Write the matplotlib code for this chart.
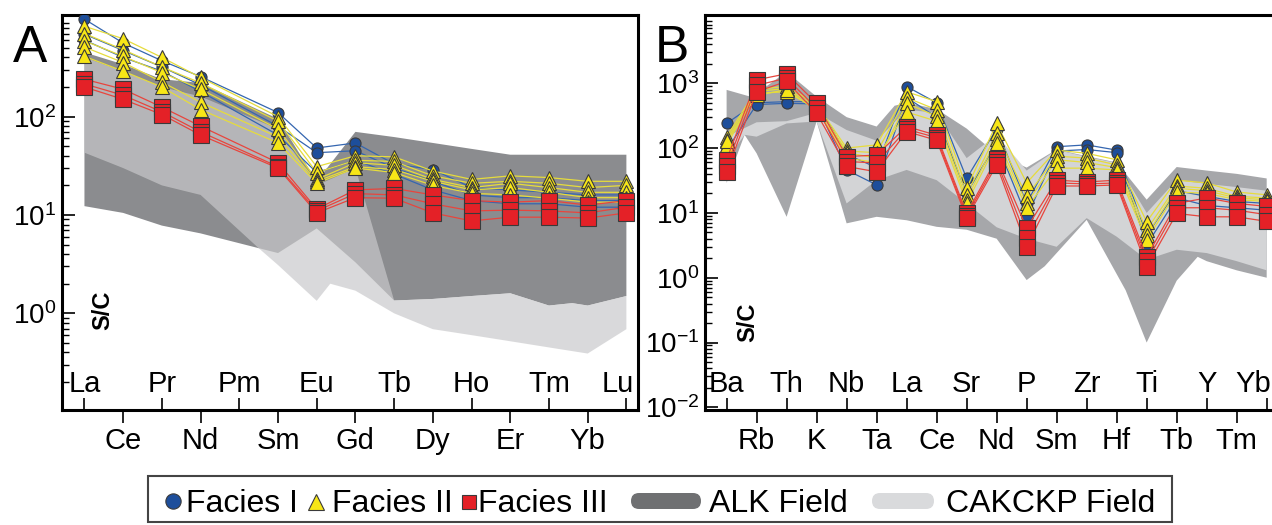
import matplotlib
matplotlib.use('Agg')
import matplotlib.pyplot as plt
import numpy as np
from matplotlib.patches import Polygon, Rectangle, FancyBboxPatch
from matplotlib.ticker import LogLocator, FixedLocator, LogFormatterSciNotation, NullFormatter

plt.rcParams.update({'font.family': 'Liberation Sans', 'mathtext.fontset': 'custom',
                     'mathtext.rm': 'Liberation Sans', 'axes.linewidth': 2.2,
                     'axes.unicode_minus': False})

BLUE, BLUE_L = '#1d4e9b', '#3566b0'
YEL, YEL_L = '#f7e617', '#e6dc3c'
RED, RED_L = '#e42127', '#e8453d'
EDGE = '#3a3a3a'
ALK_A, CAK_A = '#8b8c8f', '#c9c9cb'
ALK_B, CAK_B = '#a6a7aa', '#d3d4d6'

# ---------------- panel A: REE (Pm not measured) ----------------
REE = ['La', 'Ce', 'Pr', 'Nd', 'Pm', 'Sm', 'Eu', 'Gd', 'Tb', 'Dy', 'Ho', 'Er', 'Tm', 'Yb', 'Lu']
REE_MEAS = ['La', 'Ce', 'Pr', 'Nd', 'Sm', 'Eu', 'Gd', 'Tb', 'Dy', 'Ho', 'Er', 'Tm', 'Yb', 'Lu']

A_FACIES1 = [
    [980, 560, 370, 255, 110, 48, 54, 33, 29, 19, 18, 17, 16, 16],
    [690, 470, 320, 210, 80, 43, 45, 30, 22, 16, 15, 15, 14, 14],
    [600, 400, 290, 180, 65, 27, 36, 26, 18, 14, 13, 13, 12, 12],
]
A_FACIES2 = [
    [830, 620, 400, 250, 100, 31, 40, 39, 28, 23, 25, 24, 22, 22],
    [700, 480, 320, 220, 90, 27, 36, 35, 25, 21, 22, 21, 19, 20],
    [590, 410, 280, 190, 75, 23, 34, 32, 23, 19, 21, 19, 17, 17],
    [510, 355, 225, 140, 62, 22, 31, 29, 22, 18, 19, 17, 15, 15],
    [410, 290, 200, 118, 54, 21, 30, 27, 20, 16.6, 16, 14.8, 13.5, 13.5],
]
A_FACIES3 = [
    [240, 190, 125, 80, 34, 11.5, 18, 18.6, 16, 14, 13.5, 14, 12.6, 14],
    [215, 165, 112, 70, 31, 11, 16.5, 16, 13, 11, 11.2, 11, 10.5, 12],
    [200, 150, 105, 65, 30, 10.5, 15, 14.8, 10.5, 8.7, 9.5, 9.5, 9.3, 10.5],
]

# field outlines: position along the element list -> S/C value
ALK_A_TOP_X = [0, 1, 2, 3, 5, 6, 7, 8, 9, 10, 11, 12, 13, 14]
ALK_A_TOP = [450, 340, 240, 220, 95, 22, 70, 62, 54, 47, 41, 41, 41, 41]
ALK_A_BOT_X = [0, 1, 2, 3, 4.5, 5, 6, 7, 8, 9, 10, 11, 12, 12.6, 13, 14]
ALK_A_BOT = [12.3, 10.5, 7.8, 6.5, 4.6, 4.1, 7.3, 3.3, 1.35, 1.4, 1.5, 1.6, 1.2, 1.27, 1.2, 1.5]
CAK_A_TOP_X = [0, 1, 2, 3, 5, 6, 7, 8, 9, 10, 11, 12, 12.6, 13, 14]
CAK_A_TOP = [400, 290, 200, 160, 75, 20, 30, 1.35, 1.4, 1.5, 1.6, 1.2, 1.27, 1.2, 1.5]
CAK_A_BOT_X = [0, 1, 2, 3, 4.5, 5, 6, 6.35, 7, 8, 9, 10, 11, 12, 13, 14]
CAK_A_BOT = [43, 30, 20, 16, 4.6, 3.1, 1.34, 2.0, 1.7, 1.0, 0.69, 0.6, 0.52, 0.45, 0.39, 0.69]

# ---------------- panel B: multi-element (figure is cropped before Lu) ----------------
ME = ['Ba', 'Rb', 'Th', 'K', 'Nb', 'Ta', 'La', 'Ce', 'Sr', 'Nd', 'P', 'Sm', 'Zr', 'Hf',
      'Ti', 'Tb', 'Y', 'Tm', 'Yb']

B_FACIES1 = [
    [240, 500, 520, 520, 80, 50, 890, 500, 34, 200, 14, 105, 112, 93, 4.5, 22, 18, 15, 14],
    [93, 470, 490, 480, 46, 27, 600, 300, 20, 120, 8.7, 90, 95, 85, 3.2, 17, 13, 12, 11],
]
B_FACIES2 = [
    [150, 800, 900, 470, 100, 112, 740, 520, 24, 240, 29, 93, 83, 66, 7.3, 32, 29, 21, 19],
    [135, 750, 830, 430, 90, 85, 600, 390, 19, 170, 18, 75, 70, 55, 5.5, 26, 24, 18, 17],
    [112, 700, 740, 400, 70, 60, 490, 310, 16, 140, 14, 66, 60, 50, 4.5, 24, 22, 17, 16],
    [127, 650, 800, 380, 85, 70, 360, 260, 14, 118, 12, 49, 49, 46, 3.8, 21, 20, 16, 15],
]
B_FACIES3 = [
    [66, 1130, 1400, 490, 74, 78, 215, 158, 9.8, 69, 5.8, 32, 30, 32, 2.1, 14, 17, 14, 12.6],
    [52, 930, 1200, 410, 62, 59, 195, 145, 9.0, 62, 4.1, 29, 28, 29, 1.78, 12, 12, 11, 9.4],
    [43, 740, 1070, 345, 52, 43, 180, 132, 8.3, 55, 3.0, 26, 26, 27, 1.48, 9.8, 8.7, 8.7, 7.4],
]

ALK_B_TOP_X = [0, 0.8, 1, 2, 3, 4, 5, 5.6, 6, 7, 8, 9, 10, 11, 12, 13, 14, 15, 16, 17, 18]
ALK_B_TOP = [790, 620, 700, 1500, 620, 300, 215, 450, 500, 400, 200, 80, 50, 95, 75, 60,
             16, 51, 45, 40, 34]
ALK_B_BOT_X = [0, 0.6, 1, 2, 3, 4, 5, 6, 7, 8, 9, 10, 10.6, 12, 13.3, 14, 15, 15.7, 16, 17, 18]
ALK_B_BOT = [29, 160, 83, 8.7, 257, 6.9, 8.7, 7.7, 6.1, 5.5, 4, 0.92, 1.5, 7.8, 0.64, 0.1,
             0.9, 2.1, 1.8, 1.3, 1.0]
CAK_B_TOP_X = [0, 1, 2, 3, 4, 5, 6, 7, 8, 9, 10, 11, 12, 13, 14, 15, 16, 17, 18]
CAK_B_TOP = [150, 250, 260, 350, 190, 130, 390, 350, 70, 160, 45, 94, 73, 59, 10, 32, 28, 25, 22]
CAK_B_BOT_X = [0, 0.6, 1, 2, 3, 4, 5, 6, 7, 8, 9, 10, 11, 12, 13, 14, 15, 16, 17, 18]
CAK_B_BOT = [66, 160, 150, 240, 257, 14, 32, 46, 32, 14, 6, 4, 3, 8.3, 4.3, 1.9, 2.7, 2.4, 1.8, 1.3]


def field(ax, tx, ty, bx, by, color, alpha=1.0):
    pts = list(zip(tx, ty)) + list(zip(bx[::-1], by[::-1]))
    ax.add_patch(Polygon(pts, closed=True, fc=color, ec='none', alpha=alpha, zorder=1))


def samples(ax, x, rows, lc, mk, fc, ms, z):
    for r in rows:
        ax.plot(x, r, '-', color=lc, lw=0.9, zorder=z)
        ax.plot(x, r, ls='none', marker=mk, ms=ms, mfc=fc, mec=EDGE, mew=0.8, zorder=z + 0.5)


def frame(ax, names, ylim, majors, last_shift=0):
    ax.set_yscale('log')
    ax.set_ylim(*ylim)
    ax.yaxis.set_major_locator(FixedLocator(majors))
    ax.yaxis.set_minor_locator(LogLocator(base=10, subs=np.arange(2, 10), numticks=50))
    ax.yaxis.set_major_formatter(LogFormatterSciNotation())
    ax.yaxis.set_minor_formatter(NullFormatter())
    ax.tick_params(axis='y', which='major', direction='in', length=9, width=1.2,
                   labelsize=20, pad=4)
    ax.tick_params(axis='y', which='minor', direction='in', length=5, width=1.0)
    pos = np.arange(len(names))
    ax.set_xticks(pos[1::2], names[1::2])
    ax.set_xticks(pos[0::2], minor=True)
    ax.tick_params(axis='x', which='major', direction='out', length=9, width=1.2,
                   labelsize=21, pad=3)
    ax.tick_params(axis='x', which='minor', direction='in', length=9, width=1.2)
    even = list(zip(pos[0::2], names[0::2]))
    for i, (p, n) in enumerate(even):
        dx = last_shift if i == len(even) - 1 else 0
        ax.annotate(n, (p, 0), xycoords=('data', 'axes fraction'), xytext=(dx, 13),
                    textcoords='offset points', ha='center', va='baseline', fontsize=21)


fig = plt.figure(figsize=(12.72, 5.25), dpi=100)
axA = fig.add_axes([62 / 1272, 1 - 410 / 525, 576 / 1272, 395 / 525])
axB = fig.add_axes([705 / 1272, 1 - 410 / 525, 606.7 / 1272, 395 / 525])

# panel A
xa = [REE.index(e) for e in REE_MEAS]
field(axA, ALK_A_TOP_X, ALK_A_TOP, ALK_A_BOT_X, ALK_A_BOT, ALK_A)
field(axA, CAK_A_TOP_X, CAK_A_TOP, CAK_A_BOT_X, CAK_A_BOT, CAK_A, alpha=0.69)
samples(axA, xa, A_FACIES1, BLUE_L, 'o', BLUE, 8, 3)
samples(axA, xa, A_FACIES2, YEL_L, '^', YEL, 10, 4)
samples(axA, xa, A_FACIES3, RED_L, 's', RED, 11, 5)
axA.set_xlim(-0.58, 14.3)
frame(axA, REE, (0.104, 1080), [0.1, 1, 10, 100], last_shift=-6)

# panel B (its right side runs past the figure edge, as in the source)
xb = np.arange(len(ME))
field(axB, ALK_B_TOP_X, ALK_B_TOP, ALK_B_BOT_X, ALK_B_BOT, ALK_B)
field(axB, CAK_B_TOP_X, CAK_B_TOP, CAK_B_BOT_X, CAK_B_BOT, CAK_B)
samples(axB, xb, B_FACIES1, BLUE_L, 'o', BLUE, 8, 3)
samples(axB, xb, B_FACIES2, YEL_L, '^', YEL, 10, 4)
samples(axB, xb, B_FACIES3, RED_L, 's', RED, 11, 5)
axB.set_xlim(-0.72, 19.5)
frame(axB, ME, (0.0091, 11300), [0.01, 0.1, 1, 10, 100, 1000], last_shift=-9.5)

for ax, y in ((axA, 0.253), (axB, 0.223)):
    ax.text(0.07, y, 'S/C', transform=ax.transAxes, rotation=90, fontsize=17,
            fontweight='bold', ha='center', va='center')
fig.text(13 / 1272, 1 - 62 / 525, 'A', fontsize=37, va='baseline')
fig.text(655 / 1272, 1 - 62 / 525, 'B', fontsize=37, va='baseline')

# legend box, drawn in pixel coordinates
lg = fig.add_axes([0, 0, 1, 1], zorder=-1)
lg.set_xlim(0, 1272); lg.set_ylim(525, 0); lg.axis('off')
lg.add_patch(Rectangle((148, 476), 1024, 46, fc='white', ec='#444444', lw=1.5))
ly = 501
lg.plot([173], [ly], 'o', ms=11, mfc=BLUE, mec=EDGE, mew=0.8)
lg.plot([316], [ly + 1], '^', ms=11, mfc=YEL, mec=EDGE, mew=0.8)
lg.plot([469], [ly + 1], 's', ms=10, mfc=RED, mec=EDGE, mew=0.8)
lg.add_patch(FancyBboxPatch((631, 493), 70, 16, boxstyle='round,pad=0,rounding_size=8',
                            fc='#6f7072', ec='none'))
lg.add_patch(FancyBboxPatch((872, 493), 62, 16, boxstyle='round,pad=0,rounding_size=8',
                            fc='#d9dadc', ec='none'))
for x, t in ((186, 'Facies I'), (332, 'Facies II'), (478, 'Facies III'),
             (709, 'ALK Field'), (946, 'CAKCKP Field')):
    lg.text(x, 512, t, fontsize=23, va='baseline', ha='left')

fig.savefig('out.png', dpi=100, facecolor='white')
